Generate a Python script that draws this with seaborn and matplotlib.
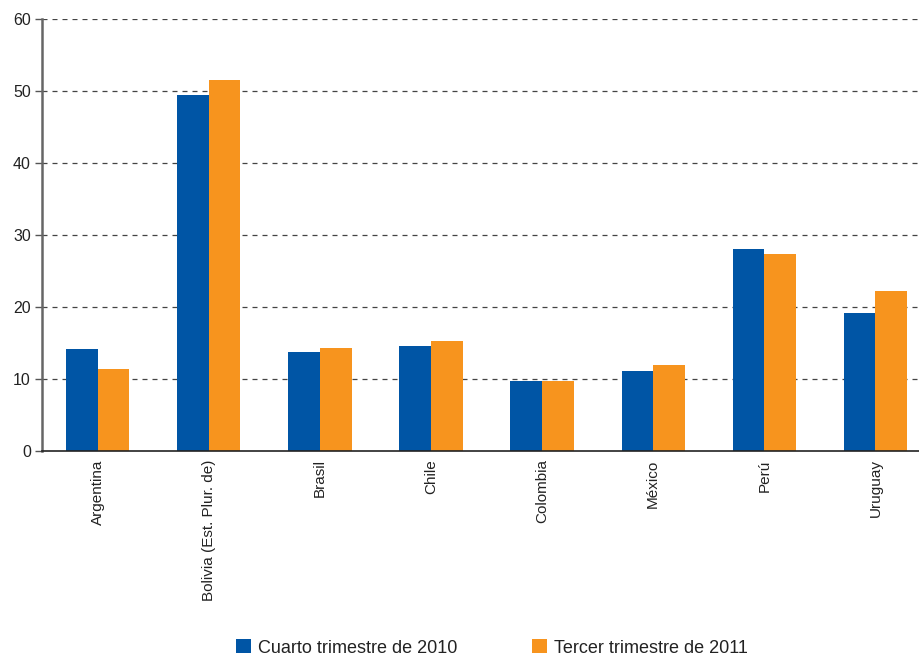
import matplotlib
matplotlib.use("Agg")
import matplotlib.pyplot as plt
from matplotlib.patches import Patch
import seaborn as sns
import pandas as pd

countries = ["Argentina", "Bolivia (Est. Plur. de)", "Brasil", "Chile",
             "Colombia", "México", "Perú", "Uruguay"]
q4_2010 = [14.2, 49.4, 13.8, 14.6, 9.7, 11.1, 28.0, 19.2]
q3_2011 = [11.4, 51.5, 14.3, 15.3, 9.7, 11.9, 27.4, 22.2]
series_names = ["Cuarto trimestre de 2010", "Tercer trimestre de 2011"]
y_ticks = [0, 10, 20, 30, 40, 50, 60]

colors = ["#0055A5", "#F7941E"]

df = pd.DataFrame({
    "pais": countries * 2,
    "valor": q4_2010 + q3_2011,
    "serie": [series_names[0]] * len(countries) + [series_names[1]] * len(countries),
})

sns.set_theme(style="white")
plt.rcParams["font.family"] = ["Liberation Sans", "DejaVu Sans"]

fig = plt.figure(figsize=(9.2, 6.55), dpi=100)
# the plotting area runs slightly past the right edge of the figure
ax = fig.add_axes([0.0457, 0.3115, 0.9663, 0.6595])

sns.barplot(data=df, x="pais", y="valor", hue="serie", palette=colors,
            width=0.57, gap=0, saturation=1, ax=ax, legend=False,
            errorbar=None, linewidth=0, zorder=3)

ax.set_ylim(0, 60)
ax.set_xlim(-0.5, len(countries) - 0.5)
ax.set_yticks(y_ticks)
ax.set_yticklabels([str(v) for v in y_ticks], fontsize=11.5, color="#222222")
ax.set_xlabel("")
ax.set_ylabel("")

# category labels, rotated, with boundary ticks as minor ticks
ax.set_xticks(range(len(countries)))
ax.set_xticklabels(countries, rotation=90, fontsize=11, color="#222222",
                   va="top")
ax.set_xticks([i - 0.5 for i in range(len(countries) + 1)], minor=True)
ax.tick_params(axis="x", which="major", length=0, pad=6)
ax.tick_params(axis="x", which="minor", length=4, width=1, color="#333333",
               direction="out")
ax.tick_params(axis="y", length=5, width=1, color="#555555", direction="out",
               pad=3, left=True)

# dashed horizontal gridlines
for v in y_ticks[1:]:
    ax.axhline(v, color="#444444", linestyle=(0, (4, 4)), linewidth=0.9,
               zorder=1)

for side in ["top", "right"]:
    ax.spines[side].set_visible(False)
ax.spines["left"].set_color("#666666")
ax.spines["left"].set_linewidth(1.8)
ax.spines["bottom"].set_color("#222222")
ax.spines["bottom"].set_linewidth(1.2)
ax.spines["bottom"].set_zorder(5)

handles = [Patch(facecolor=c, edgecolor="none") for c in colors]
fig.legend(handles, series_names, loc="center", ncol=2,
           bbox_to_anchor=(492 / 920, 1 - 648 / 655), frameon=False,
           fontsize=13, handlelength=0.83, handleheight=0.83,
           handletextpad=0.4, columnspacing=4.1, labelcolor="#222222")

fig.savefig("out.png", dpi=100)
